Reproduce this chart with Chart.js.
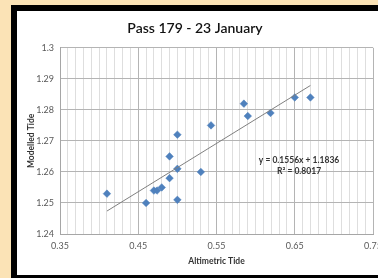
<!DOCTYPE html>
<html><head><meta charset="utf-8">
<script src="https://cdn.jsdelivr.net/npm/chart.js@4.4.1/dist/chart.umd.min.js"></script>
<style>
html,body{margin:0;padding:0;width:378px;height:278px;overflow:hidden;background:#fbe3b6;}
#frame{position:absolute;left:11px;top:5px;width:367px;height:273px;background:#000;}
#panel{position:absolute;left:17px;top:11px;width:361px;height:264px;background:#fff;}
canvas{display:block}
</style></head><body>
<div id="frame"></div>
<div id="panel"><canvas id="c" width="361" height="264"></canvas></div>
<script>
// Data
const altimetricTide = [0.41, 0.46, 0.47, 0.474, 0.48, 0.49, 0.49, 0.50, 0.50, 0.50, 0.53, 0.543, 0.585, 0.59, 0.619, 0.65, 0.67];
const modelledTide   = [1.253, 1.250, 1.254, 1.254, 1.255, 1.258, 1.265, 1.261, 1.251, 1.272, 1.260, 1.275, 1.282, 1.278, 1.279, 1.284, 1.284];
const xTickLabels = [0.35, 0.45, 0.55, 0.65, 0.75];
const yTickLabels = [1.24, 1.25, 1.26, 1.27, 1.28, 1.29, 1.3];
const xMinorSteps = 40; // minor vertical gridlines every 0.01
const trendSlope = 0.1556;
const trendIntercept = 1.1836;
const rSquared = 0.8017;

const points = altimetricTide.map((x, i) => ({x: x, y: modelledTide[i]}));
const xLo = Math.min(...altimetricTide), xHi = Math.max(...altimetricTide);
const trend = [
  {x: xLo, y: trendSlope * xLo + trendIntercept},
  {x: xHi, y: trendSlope * xHi + trendIntercept}
];
const xMin = xTickLabels[0], xMax = xTickLabels[xTickLabels.length - 1];
const xGrid = [];
for (let i = 0; i <= xMinorSteps; i++) xGrid.push(Math.round((xMin + (xMax - xMin) * i / xMinorSteps) * 1000) / 1000);
const isMajorX = v => xTickLabels.some(t => Math.abs(t - v) < 1e-6);

const FONT = 'Lato';

const equationPlugin = {
  id: 'equation',
  afterDatasetsDraw(chart) {
    const {ctx, scales} = chart;
    const px = scales.x.getPixelForValue(0.6555);
    const py = scales.y.getPixelForValue(1.2619);
    ctx.save();
    ctx.font = 'bold 8.5px ' + FONT;
    ctx.fillStyle = '#333333';
    ctx.textAlign = 'center';
    ctx.textBaseline = 'middle';
    ctx.fillText('y = ' + trendSlope + 'x + ' + trendIntercept, px, py - 5.5);
    ctx.fillText('R\u00b2 = ' + rSquared, px, py + 5.5);
    ctx.restore();
  }
};

new Chart(document.getElementById('c'), {
  type: 'scatter',
  data: {
    datasets: [
      {
        type: 'line',
        data: trend,
        borderColor: '#7f7f7f',
        borderWidth: 1,
        pointRadius: 0,
        fill: false
      },
      {
        data: points,
        pointStyle: 'rectRot',
        pointRadius: 3.8,
        backgroundColor: '#4f81bd',
        borderColor: '#4f81bd',
        borderWidth: 0.5
      }
    ]
  },
  options: {
    responsive: false,
    animation: false,
    events: [],
    layout: {padding: {left: 0, right: 5, top: 0, bottom: 0}},
    plugins: {
      legend: {display: false},
      tooltip: {enabled: false},
      title: {
        display: true,
        text: 'Pass 179 - 23 January',
        color: '#111111',
        font: {family: FONT, size: 14, weight: '600'},
        padding: {top: 9, bottom: 11}
      }
    },
    scales: {
      x: {
        type: 'linear',
        min: xMin,
        max: xMax,
        afterBuildTicks: s => { s.ticks = xGrid.map(v => ({value: v})); },
        afterFit: s => { s.height = 41; s.paddingLeft = 0; s.paddingRight = 0; },
        ticks: {
          autoSkip: false,
          maxRotation: 0,
          minRotation: 0,
          padding: 7,
          color: '#595959',
          font: {family: FONT, size: 9},
          callback: v => isMajorX(v) ? v.toFixed(2) : ''
        },
        grid: {
          drawTicks: false,
          color: c => (c.tick && isMajorX(c.tick.value)) ? '#b4b4b4' : '#dedede',
          lineWidth: 1
        },
        border: {color: '#a6a6a6'},
        title: {
          display: true,
          text: 'Altimetric Tide',
          color: '#333333',
          font: {family: FONT, size: 8.5, weight: 'bold'},
          padding: {top: 0, bottom: 9}
        }
      },
      y: {
        type: 'linear',
        min: yTickLabels[0],
        max: yTickLabels[yTickLabels.length - 1],
        afterBuildTicks: s => { s.ticks = yTickLabels.map(v => ({value: v})); },
        afterFit: s => { s.width = 43; s.paddingTop = 0; s.paddingBottom = 0; },
        ticks: {
          padding: 6,
          color: '#595959',
          font: {family: FONT, size: 9},
          callback: v => String(Math.round(v * 100) / 100)
        },
        grid: {
          drawTicks: false,
          color: '#b4b4b4',
          lineWidth: 1
        },
        border: {color: '#a6a6a6'},
        title: {
          display: true,
          text: 'Modelled Tide',
          color: '#333333',
          font: {family: FONT, size: 8.5, weight: 'bold'},
          padding: {top: 9, bottom: 0}
        }
      }
    }
  },
  plugins: [equationPlugin]
});
</script>
</body></html>
